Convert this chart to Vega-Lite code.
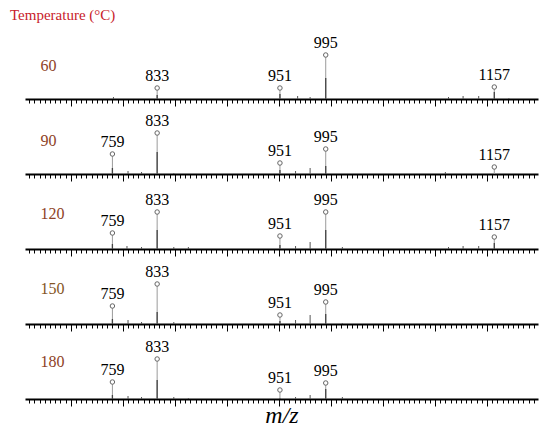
{
  "$schema": "https://vega.github.io/schema/vega-lite/v6.json",
  "padding": {"left": 10, "top": 8, "right": 10, "bottom": 0},
  "background": "white",
  "bounds": "flush",
  "spacing": 20,
  "title": {"text": "Temperature (°C)", "anchor": "start", "color": "#c8202a", "font": "Liberation Serif", "fontSize": 15, "fontWeight": "normal", "dx": -15, "offset": 12},
  "config": {"view": {"stroke": null}, "text": {"font": "Liberation Serif"}},
  "datasets": {
    "peaks": [
      {"T": "60", "mz": 833, "label": "833", "h": 11, "peak": 4},
      {"T": "60", "mz": 951, "label": "951", "h": 11, "peak": 5},
      {"T": "60", "mz": 995, "label": "995", "h": 44, "peak": 21},
      {"T": "60", "mz": 1157, "label": "1157", "h": 12, "peak": 7},
      {"T": "90", "mz": 790, "label": "759", "h": 20, "peak": 6},
      {"T": "90", "mz": 833, "label": "833", "h": 41, "peak": 22},
      {"T": "90", "mz": 951, "label": "951", "h": 11, "peak": 4},
      {"T": "90", "mz": 995, "label": "995", "h": 25, "peak": 8},
      {"T": "90", "mz": 1157, "label": "1157", "h": 7, "peak": 0},
      {"T": "120", "mz": 790, "label": "759", "h": 16, "peak": 5},
      {"T": "120", "mz": 833, "label": "833", "h": 37, "peak": 19},
      {"T": "120", "mz": 951, "label": "951", "h": 13, "peak": 4},
      {"T": "120", "mz": 995, "label": "995", "h": 37, "peak": 19},
      {"T": "120", "mz": 1157, "label": "1157", "h": 12, "peak": 6},
      {"T": "150", "mz": 790, "label": "759", "h": 18, "peak": 5},
      {"T": "150", "mz": 833, "label": "833", "h": 40, "peak": 12},
      {"T": "150", "mz": 951, "label": "951", "h": 9, "peak": 3},
      {"T": "150", "mz": 995, "label": "995", "h": 22, "peak": 10},
      {"T": "180", "mz": 790, "label": "759", "h": 17, "peak": 4},
      {"T": "180", "mz": 833, "label": "833", "h": 40, "peak": 19},
      {"T": "180", "mz": 951, "label": "951", "h": 9, "peak": 1},
      {"T": "180", "mz": 995, "label": "995", "h": 16, "peak": 10}
    ],
    "noise": [
      {"T": "60", "mz": 791, "v": 2}, {"T": "60", "mz": 968, "v": 3}, {"T": "60", "mz": 980, "v": 2},
      {"T": "60", "mz": 1113, "v": 2}, {"T": "60", "mz": 1127, "v": 3}, {"T": "60", "mz": 1142, "v": 3}, {"T": "60", "mz": 1171, "v": 1},
      {"T": "90", "mz": 805, "v": 3}, {"T": "90", "mz": 818, "v": 2}, {"T": "90", "mz": 849, "v": 1},
      {"T": "90", "mz": 966, "v": 3}, {"T": "90", "mz": 980, "v": 6}, {"T": "90", "mz": 1110, "v": 2},
      {"T": "120", "mz": 804, "v": 3}, {"T": "120", "mz": 818, "v": 2}, {"T": "120", "mz": 849, "v": 2}, {"T": "120", "mz": 863, "v": 2},
      {"T": "120", "mz": 966, "v": 3}, {"T": "120", "mz": 980, "v": 7}, {"T": "120", "mz": 1011, "v": 2},
      {"T": "120", "mz": 1113, "v": 2}, {"T": "120", "mz": 1127, "v": 3}, {"T": "120", "mz": 1142, "v": 3},
      {"T": "150", "mz": 805, "v": 4}, {"T": "150", "mz": 818, "v": 2}, {"T": "150", "mz": 849, "v": 2},
      {"T": "150", "mz": 966, "v": 4}, {"T": "150", "mz": 980, "v": 9}, {"T": "150", "mz": 1011, "v": 1},
      {"T": "180", "mz": 805, "v": 3}, {"T": "180", "mz": 818, "v": 2}, {"T": "180", "mz": 849, "v": 2}, {"T": "180", "mz": 863, "v": 1},
      {"T": "180", "mz": 966, "v": 2}, {"T": "180", "mz": 980, "v": 4}, {"T": "180", "mz": 1011, "v": 2}
    ]
  },
  "vconcat": [
    {
      "width": 513, "height": 55,
      "layer": [
        {"data": {"name": "noise"}, "transform": [{"filter": "datum.T === '60'"}], "mark": {"type": "rule", "color": "#555", "strokeWidth": 1},
         "encoding": {"x": {"field": "mz", "type": "quantitative", "scale": {"domain": [706, 1199], "nice": false},
           "axis": {"title": null, "labels": false, "grid": false, "domainColor": "black", "domainWidth": 2, "tickColor": "black", "tickWidth": 1, "tickCount": 100, "tickSize": {"condition": {"test": "datum.value % 50 === 0", "value": 7}, "value": 4}}},
           "y": {"field": "v", "type": "quantitative", "scale": {"domain": [0, 55], "nice": false},
           "axis": {"title": "60", "domain": false, "ticks": false, "labels": false, "grid": false, "titleAngle": 0, "titleX": 15, "titleY": 21, "titleAlign": "left", "titleBaseline": "middle", "titleColor": "#8e4226", "titleFont": "Liberation Serif", "titleFontSize": 16, "titleFontWeight": "normal"}}, "y2": {"datum": 0}}},
        {"data": {"name": "peaks"}, "transform": [{"filter": "datum.T === '60'"}], "mark": {"type": "rule", "color": "#9a9a9a", "strokeWidth": 1},
         "encoding": {"x": {"field": "mz", "type": "quantitative"}, "y": {"field": "h", "type": "quantitative"}, "y2": {"datum": 0}}},
        {"data": {"name": "peaks"}, "transform": [{"filter": "datum.T === '60'"}], "mark": {"type": "rule", "color": "#444", "strokeWidth": 1.3},
         "encoding": {"x": {"field": "mz", "type": "quantitative"}, "y": {"field": "peak", "type": "quantitative"}, "y2": {"datum": 0}}},
        {"data": {"name": "peaks"}, "transform": [{"filter": "datum.T === '60'"}], "mark": {"type": "point", "shape": "circle", "filled": true, "fill": "white", "stroke": "#666", "strokeWidth": 1, "size": 20, "opacity": 1},
         "encoding": {"x": {"field": "mz", "type": "quantitative"}, "y": {"field": "h", "type": "quantitative"}}},
        {"data": {"name": "peaks"}, "transform": [{"filter": "datum.T === '60'"}], "mark": {"type": "text", "font": "Liberation Serif", "fontSize": 16, "color": "black", "baseline": "alphabetic", "dy": -7},
         "encoding": {"x": {"field": "mz", "type": "quantitative"}, "y": {"field": "h", "type": "quantitative"}, "text": {"field": "label"}}}
      ]
    },
    {
      "width": 513, "height": 55,
      "layer": [
        {"data": {"name": "noise"}, "transform": [{"filter": "datum.T === '90'"}], "mark": {"type": "rule", "color": "#555", "strokeWidth": 1},
         "encoding": {"x": {"field": "mz", "type": "quantitative", "scale": {"domain": [706, 1199], "nice": false},
           "axis": {"title": null, "labels": false, "grid": false, "domainColor": "black", "domainWidth": 2, "tickColor": "black", "tickWidth": 1, "tickCount": 100, "tickSize": {"condition": {"test": "datum.value % 50 === 0", "value": 7}, "value": 4}}},
           "y": {"field": "v", "type": "quantitative", "scale": {"domain": [0, 55], "nice": false},
           "axis": {"title": "90", "domain": false, "ticks": false, "labels": false, "grid": false, "titleAngle": 0, "titleX": 15, "titleY": 21, "titleAlign": "left", "titleBaseline": "middle", "titleColor": "#8e4226", "titleFont": "Liberation Serif", "titleFontSize": 16, "titleFontWeight": "normal"}}, "y2": {"datum": 0}}},
        {"data": {"name": "peaks"}, "transform": [{"filter": "datum.T === '90'"}], "mark": {"type": "rule", "color": "#9a9a9a", "strokeWidth": 1},
         "encoding": {"x": {"field": "mz", "type": "quantitative"}, "y": {"field": "h", "type": "quantitative"}, "y2": {"datum": 0}}},
        {"data": {"name": "peaks"}, "transform": [{"filter": "datum.T === '90'"}], "mark": {"type": "rule", "color": "#444", "strokeWidth": 1.3},
         "encoding": {"x": {"field": "mz", "type": "quantitative"}, "y": {"field": "peak", "type": "quantitative"}, "y2": {"datum": 0}}},
        {"data": {"name": "peaks"}, "transform": [{"filter": "datum.T === '90'"}], "mark": {"type": "point", "shape": "circle", "filled": true, "fill": "white", "stroke": "#666", "strokeWidth": 1, "size": 20, "opacity": 1},
         "encoding": {"x": {"field": "mz", "type": "quantitative"}, "y": {"field": "h", "type": "quantitative"}}},
        {"data": {"name": "peaks"}, "transform": [{"filter": "datum.T === '90'"}], "mark": {"type": "text", "font": "Liberation Serif", "fontSize": 16, "color": "black", "baseline": "alphabetic", "dy": -7},
         "encoding": {"x": {"field": "mz", "type": "quantitative"}, "y": {"field": "h", "type": "quantitative"}, "text": {"field": "label"}}}
      ]
    },
    {
      "width": 513, "height": 55,
      "layer": [
        {"data": {"name": "noise"}, "transform": [{"filter": "datum.T === '120'"}], "mark": {"type": "rule", "color": "#555", "strokeWidth": 1},
         "encoding": {"x": {"field": "mz", "type": "quantitative", "scale": {"domain": [706, 1199], "nice": false},
           "axis": {"title": null, "labels": false, "grid": false, "domainColor": "black", "domainWidth": 2, "tickColor": "black", "tickWidth": 1, "tickCount": 100, "tickSize": {"condition": {"test": "datum.value % 50 === 0", "value": 7}, "value": 4}}},
           "y": {"field": "v", "type": "quantitative", "scale": {"domain": [0, 55], "nice": false},
           "axis": {"title": "120", "domain": false, "ticks": false, "labels": false, "grid": false, "titleAngle": 0, "titleX": 15, "titleY": 19, "titleAlign": "left", "titleBaseline": "middle", "titleColor": "#8e4226", "titleFont": "Liberation Serif", "titleFontSize": 16, "titleFontWeight": "normal"}}, "y2": {"datum": 0}}},
        {"data": {"name": "peaks"}, "transform": [{"filter": "datum.T === '120'"}], "mark": {"type": "rule", "color": "#9a9a9a", "strokeWidth": 1},
         "encoding": {"x": {"field": "mz", "type": "quantitative"}, "y": {"field": "h", "type": "quantitative"}, "y2": {"datum": 0}}},
        {"data": {"name": "peaks"}, "transform": [{"filter": "datum.T === '120'"}], "mark": {"type": "rule", "color": "#444", "strokeWidth": 1.3},
         "encoding": {"x": {"field": "mz", "type": "quantitative"}, "y": {"field": "peak", "type": "quantitative"}, "y2": {"datum": 0}}},
        {"data": {"name": "peaks"}, "transform": [{"filter": "datum.T === '120'"}], "mark": {"type": "point", "shape": "circle", "filled": true, "fill": "white", "stroke": "#666", "strokeWidth": 1, "size": 20, "opacity": 1},
         "encoding": {"x": {"field": "mz", "type": "quantitative"}, "y": {"field": "h", "type": "quantitative"}}},
        {"data": {"name": "peaks"}, "transform": [{"filter": "datum.T === '120'"}], "mark": {"type": "text", "font": "Liberation Serif", "fontSize": 16, "color": "black", "baseline": "alphabetic", "dy": -7},
         "encoding": {"x": {"field": "mz", "type": "quantitative"}, "y": {"field": "h", "type": "quantitative"}, "text": {"field": "label"}}}
      ]
    },
    {
      "width": 513, "height": 55,
      "layer": [
        {"data": {"name": "noise"}, "transform": [{"filter": "datum.T === '150'"}], "mark": {"type": "rule", "color": "#555", "strokeWidth": 1},
         "encoding": {"x": {"field": "mz", "type": "quantitative", "scale": {"domain": [706, 1199], "nice": false},
           "axis": {"title": null, "labels": false, "grid": false, "domainColor": "black", "domainWidth": 2, "tickColor": "black", "tickWidth": 1, "tickCount": 100, "tickSize": {"condition": {"test": "datum.value % 50 === 0", "value": 7}, "value": 4}}},
           "y": {"field": "v", "type": "quantitative", "scale": {"domain": [0, 55], "nice": false},
           "axis": {"title": "150", "domain": false, "ticks": false, "labels": false, "grid": false, "titleAngle": 0, "titleX": 15, "titleY": 19, "titleAlign": "left", "titleBaseline": "middle", "titleColor": "#845524", "titleFont": "Liberation Serif", "titleFontSize": 16, "titleFontWeight": "normal"}}, "y2": {"datum": 0}}},
        {"data": {"name": "peaks"}, "transform": [{"filter": "datum.T === '150'"}], "mark": {"type": "rule", "color": "#9a9a9a", "strokeWidth": 1},
         "encoding": {"x": {"field": "mz", "type": "quantitative"}, "y": {"field": "h", "type": "quantitative"}, "y2": {"datum": 0}}},
        {"data": {"name": "peaks"}, "transform": [{"filter": "datum.T === '150'"}], "mark": {"type": "rule", "color": "#444", "strokeWidth": 1.3},
         "encoding": {"x": {"field": "mz", "type": "quantitative"}, "y": {"field": "peak", "type": "quantitative"}, "y2": {"datum": 0}}},
        {"data": {"name": "peaks"}, "transform": [{"filter": "datum.T === '150'"}], "mark": {"type": "point", "shape": "circle", "filled": true, "fill": "white", "stroke": "#666", "strokeWidth": 1, "size": 20, "opacity": 1},
         "encoding": {"x": {"field": "mz", "type": "quantitative"}, "y": {"field": "h", "type": "quantitative"}}},
        {"data": {"name": "peaks"}, "transform": [{"filter": "datum.T === '150'"}], "mark": {"type": "text", "font": "Liberation Serif", "fontSize": 16, "color": "black", "baseline": "alphabetic", "dy": -7},
         "encoding": {"x": {"field": "mz", "type": "quantitative"}, "y": {"field": "h", "type": "quantitative"}, "text": {"field": "label"}}}
      ]
    },
    {
      "width": 513, "height": 55,
      "layer": [
        {"data": {"name": "noise"}, "transform": [{"filter": "datum.T === '180'"}], "mark": {"type": "rule", "color": "#555", "strokeWidth": 1},
         "encoding": {"x": {"field": "mz", "type": "quantitative", "scale": {"domain": [706, 1199], "nice": false},
           "axis": {"title": "m/z", "titleFont": "Liberation Serif", "titleFontStyle": "italic", "titleFontWeight": "normal", "titleFontSize": 24, "titleColor": "black", "titlePadding": -3, "labels": false, "grid": false, "domainColor": "black", "domainWidth": 2, "tickColor": "black", "tickWidth": 1, "tickCount": 100, "tickSize": {"condition": {"test": "datum.value % 50 === 0", "value": 7}, "value": 4}}},
           "y": {"field": "v", "type": "quantitative", "scale": {"domain": [0, 55], "nice": false},
           "axis": {"title": "180", "domain": false, "ticks": false, "labels": false, "grid": false, "titleAngle": 0, "titleX": 15, "titleY": 17, "titleAlign": "left", "titleBaseline": "middle", "titleColor": "#8e4226", "titleFont": "Liberation Serif", "titleFontSize": 16, "titleFontWeight": "normal"}}, "y2": {"datum": 0}}},
        {"data": {"name": "peaks"}, "transform": [{"filter": "datum.T === '180'"}], "mark": {"type": "rule", "color": "#9a9a9a", "strokeWidth": 1},
         "encoding": {"x": {"field": "mz", "type": "quantitative"}, "y": {"field": "h", "type": "quantitative"}, "y2": {"datum": 0}}},
        {"data": {"name": "peaks"}, "transform": [{"filter": "datum.T === '180'"}], "mark": {"type": "rule", "color": "#444", "strokeWidth": 1.3},
         "encoding": {"x": {"field": "mz", "type": "quantitative"}, "y": {"field": "peak", "type": "quantitative"}, "y2": {"datum": 0}}},
        {"data": {"name": "peaks"}, "transform": [{"filter": "datum.T === '180'"}], "mark": {"type": "point", "shape": "circle", "filled": true, "fill": "white", "stroke": "#666", "strokeWidth": 1, "size": 20, "opacity": 1},
         "encoding": {"x": {"field": "mz", "type": "quantitative"}, "y": {"field": "h", "type": "quantitative"}}},
        {"data": {"name": "peaks"}, "transform": [{"filter": "datum.T === '180'"}], "mark": {"type": "text", "font": "Liberation Serif", "fontSize": 16, "color": "black", "baseline": "alphabetic", "dy": -7},
         "encoding": {"x": {"field": "mz", "type": "quantitative"}, "y": {"field": "h", "type": "quantitative"}, "text": {"field": "label"}}}
      ]
    }
  ]
}
